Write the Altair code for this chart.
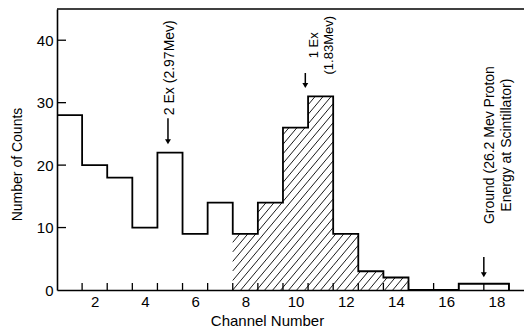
import altair as alt
import pandas as pd
import numpy as np

# ---- data ----
channels = [1, 2, 3, 4, 5, 6, 7, 8, 9, 10, 11, 12, 13, 14, 15, 16, 17, 18]
counts = [28, 20, 18, 10, 22, 9, 14, 9, 14, 26, 31, 9, 3, 2, 0, 0, 1, 1]
hatched_channels = [8, 9, 10, 11, 12, 13, 14]
x_tick_positions = [1.5, 2.5, 3.5, 4.5, 5.5, 6.5, 7.5, 8.5, 9.5, 10.5,
                    11.5, 12.5, 13.5, 14.5, 15.5, 16.5, 17.5, 18.5]
x_label_values = [2, 4, 6, 8, 10, 12, 14, 16, 18]
y_label_values = [0, 10, 20, 30, 40]
y_tick_values = [10, 20, 30, 40]

FONT = "Liberation Sans"
W, H = 467, 281
X_MIN, X_MAX = 0.5, 19.1
Y_MAX = 45

xscale = alt.Scale(domain=[X_MIN, X_MAX], nice=False, zero=False)
yscale = alt.Scale(domain=[0, Y_MAX], nice=False, zero=False)

# step outline table (bin left edges, closing at the last right edge)
step_df = pd.DataFrame({
    "edge": [c - 0.5 for c in channels] + [channels[-1] + 0.5],
    "count": counts + [0],
})

# hatch segments, 50 degree lines clipped to the hatched bins
sx = W / (X_MAX - X_MIN)
sy = H / Y_MAX
tan_t = np.tan(np.deg2rad(50))
spacing = 8.0
left_px = (hatched_channels[0] - 0.5 - X_MIN) * sx
right_px = (hatched_channels[-1] + 0.5 - X_MIN) * sx
offsets = np.arange(left_px - 200, right_px, spacing)
rows = []
for ch, cnt in zip(channels, counts):
    if ch not in hatched_channels:
        continue
    a = (ch - 0.5 - X_MIN) * sx
    b = (ch + 0.5 - X_MIN) * sx
    h = cnt * sy
    for c in offsets:
        x1 = max(a, c)
        x2 = min(b, c + h / tan_t)
        if x2 > x1:
            rows.append({
                "x": X_MIN + x1 / sx, "x2": X_MIN + x2 / sx,
                "y": (x1 - c) * tan_t / sy, "y2": (x2 - c) * tan_t / sy,
            })
hatch_df = pd.DataFrame(rows)

# annotations
arrows = pd.DataFrame({
    "x": [4.92, 10.39, 17.5],
    "top": [27.5, 34.75, 5.3],
    "tip": [23.2, 32.2, 1.9],
})
arrows["head"] = arrows["tip"] + 0.55

base_axis = dict(domainColor="black", domainWidth=1.6, ticks=False, grid=False,
                 labelFont=FONT, labelFontSize=15, labelColor="black",
                 titleFont=FONT, titleFontWeight="normal",
                 titleColor="black", labelPadding=4)

step = alt.Chart(step_df).mark_line(
    interpolate="step-after", color="black", strokeWidth=1.8
).encode(
    x=alt.X("edge:Q", scale=xscale,
            axis=alt.Axis(values=x_label_values, title="Channel Number",
                          titleFontSize=15, titleX=210, titleY=30,
                          titleBaseline="middle", titleAlign="center",
                          **base_axis)),
    y=alt.Y("count:Q", scale=yscale,
            axis=alt.Axis(values=y_label_values, title="Number of Counts",
                          titleFontSize=14, titleX=-40, titleY=155,
                          titleAngle=270, titleBaseline="middle",
                          titleAlign="center", **base_axis)),
)

hatch = alt.Chart(hatch_df).mark_rule(color="black", strokeWidth=0.9).encode(
    x=alt.X("x:Q", scale=xscale), x2="x2:Q",
    y=alt.Y("y:Q", scale=yscale), y2="y2:Q",
)

xticks = alt.Chart(pd.DataFrame({"pos": x_tick_positions})).mark_rule(
    color="black", strokeWidth=1.3
).encode(
    x=alt.X("pos:Q", scale=xscale),
    y=alt.value(H - 7), y2=alt.value(H),
)

yticks = alt.Chart(pd.DataFrame({"v": y_tick_values})).mark_rule(
    color="black", strokeWidth=1.3
).encode(
    y=alt.Y("v:Q", scale=yscale),
    x=alt.value(0), x2=alt.value(9),
)

top_line = alt.Chart(pd.DataFrame({"a": [0]})).mark_rule(
    color="black", strokeWidth=1.5
).encode(y=alt.value(0), x=alt.value(0), x2=alt.value(W))

arrow_shaft = alt.Chart(arrows).mark_rule(color="black", strokeWidth=1.5).encode(
    x=alt.X("x:Q", scale=xscale),
    y=alt.Y("top:Q", scale=yscale), y2="head:Q",
)
arrow_head = alt.Chart(arrows).mark_point(
    shape="triangle-down", filled=True, size=35, color="black", opacity=1
).encode(
    x=alt.X("x:Q", scale=xscale),
    y=alt.Y("head:Q", scale=yscale),
)

lbl1 = alt.Chart(pd.DataFrame({"x": [5.0], "y": [28.0], "t": ["2 Ex (2.97Mev)"]})).mark_text(
    angle=270, align="left", baseline="middle", font=FONT, fontSize=14, color="black"
).encode(x=alt.X("x:Q", scale=xscale),
         y=alt.Y("y:Q", scale=yscale), text="t:N")

lbl2 = alt.Chart(pd.DataFrame({"x": [10.74], "y": [39.2]})).mark_text(
    angle=270, align="center", baseline="middle", font=FONT, fontSize=13,
    color="black", lineHeight=15, text=["1 Ex", "(1.83Mev)"]
).encode(x=alt.X("x:Q", scale=xscale),
         y=alt.Y("y:Q", scale=yscale))

lbl3 = alt.Chart(pd.DataFrame({"x": [17.74], "y": [23.2]})).mark_text(
    angle=270, align="center", baseline="middle", font=FONT, fontSize=14,
    color="black", lineHeight=17,
    text=["Ground (26.2 Mev Proton", "Energy at Scintillator)"]
).encode(x=alt.X("x:Q", scale=xscale),
         y=alt.Y("y:Q", scale=yscale))

chart = alt.layer(
    step, hatch, xticks, yticks, top_line, arrow_shaft, arrow_head, lbl1, lbl2, lbl3
).properties(
    width=W, height=H,
    autosize=alt.AutoSizeParams(type="none"),
    padding={"left": 49, "top": 1, "right": 0, "bottom": 40},
    background="white",
).configure_view(stroke=None)

chart.save("out.html", embed_options={"renderer": "svg", "actions": False})
